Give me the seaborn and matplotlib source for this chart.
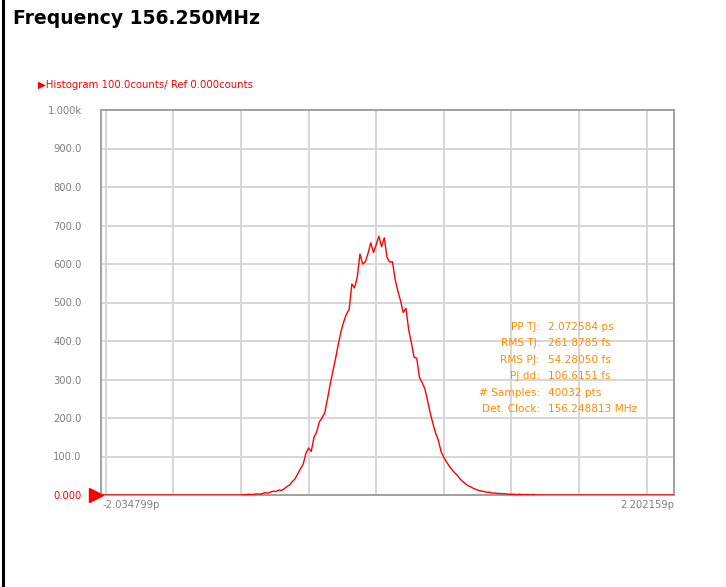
import numpy as np
import pandas as pd
import matplotlib
matplotlib.use("Agg")
import matplotlib.pyplot as plt
from matplotlib.lines import Line2D
import seaborn as sns

# Histogram readout (counts per bin, bins of 0.02 ps starting at -1.00 ps)
x_min_ps = -2.034799
x_max_ps = 2.202159
bin_start_ps = -1.00
bin_step_ps = 0.02
counts = [
    0, 1, 1, 2, 1, 2, 3, 2, 4, 6,
    5, 8, 10, 9, 13, 12, 16, 22, 26, 35,
    42, 55, 68, 80, 108, 122, 113, 150, 164, 190,
    200, 214, 250, 288, 322, 355, 392, 425, 450, 470,
    482, 548, 538, 566, 626, 600, 606, 628, 655, 630,
    650, 672, 645, 668, 617, 605, 606, 560, 530, 505,
    474, 485, 430, 395, 358, 355, 305, 292, 276, 245,
    212, 185, 160, 142, 112, 98, 86, 75, 66, 58,
    51, 42, 35, 29, 24, 21, 17, 14, 12, 10,
    9, 7, 7, 5, 5, 4, 4, 3, 3, 2,
    2, 2, 1, 2, 1, 1, 1, 0, 1, 0, 0,
]

y_ticks = [0, 100, 200, 300, 400, 500, 600, 700, 800, 900, 1000]
y_tick_labels = ["0.000", "100.0", "200.0", "300.0", "400.0", "500.0",
                 "600.0", "700.0", "800.0", "900.0", "1.000k"]

stat_names = ["PP TJ:", "RMS TJ:", "RMS PJ:", "PJ dd:", "# Samples:", "Det. Clock:"]
stat_values = ["2.072584 ps", "261.8785 fs", "54.28050 fs", "106.6151 fs",
               "40032 pts", "156.248813 MHz"]

bins = bin_start_ps + bin_step_ps * np.arange(len(counts))
df = pd.DataFrame({
    "time": np.concatenate([[x_min_ps], bins, [x_max_ps]]),
    "counts": [0] + counts + [0],
})

sns.set_style("white")
plt.rcParams["font.family"] = ["DejaVu Sans"]

W, H = 726, 587
fig = plt.figure(figsize=(W / 100, H / 100), dpi=100)
ax = fig.add_axes([101 / W, 1 - 495 / H, (674 - 101) / W, (495 - 110) / H])

sns.lineplot(data=df, x="time", y="counts", color="#ff0000", linewidth=1.0,
             ax=ax, zorder=3)

ax.set_xlim(x_min_ps, x_max_ps)
ax.set_ylim(0, 1000)
ax.set_xticks(np.arange(-2.0, 2.01, 0.5))
ax.set_xticklabels([])
ax.set_yticks(y_ticks)
ax.set_yticklabels(y_tick_labels)
ax.tick_params(axis="both", length=0)
ax.tick_params(axis="y", labelsize=7.2, labelcolor="#808080", pad=14)
ax.get_yticklabels()[0].set_color("#ff0000")
ax.grid(True, color="#d6d6d6", linewidth=1.4)
ax.set_xlabel("")
ax.set_ylabel("")
for side in ["left", "right", "top", "bottom"]:
    ax.spines[side].set_color("#a0a0a0")
    ax.spines[side].set_linewidth(1.4)

# x-range labels
ax.text(0.003, -0.012, "-2.034799p", transform=ax.transAxes, ha="left", va="top",
        fontsize=7.2, color="#808080")
ax.text(1.0, -0.012, "2.202159p", transform=ax.transAxes, ha="right", va="top",
        fontsize=7.2, color="#808080")

# zero reference marker
fig.add_artist(Line2D([96 / W], [1 - 495 / H], marker=">", markersize=10,
                      color="#ff0000", transform=fig.transFigure))

# stats box
for i, (name, val) in enumerate(zip(stat_names, stat_values)):
    yy = 1 - (327 + i * 16.4) / H
    fig.text(540 / W, yy, name, ha="right", va="center", fontsize=7.6, color="#ff8c00")
    fig.text(548 / W, yy, val, ha="left", va="center", fontsize=7.6, color="#ff8c00")

fig.text(38 / W, 1 - 85 / H, "\u25b6Histogram 100.0counts/ Ref 0.000counts",
         ha="left", va="center", fontsize=7.3, color="#ff0000")
fig.text(13 / W, 1 - 18 / H, "Frequency 156.250MHz", ha="left", va="center",
         fontsize=13.5, fontweight="bold", color="black")

# left border of the panel
fig.add_artist(Line2D([2.5 / W, 2.5 / W], [0, 1], color="black", linewidth=2.2,
                      transform=fig.transFigure))

fig.savefig("out.png", dpi=100)
